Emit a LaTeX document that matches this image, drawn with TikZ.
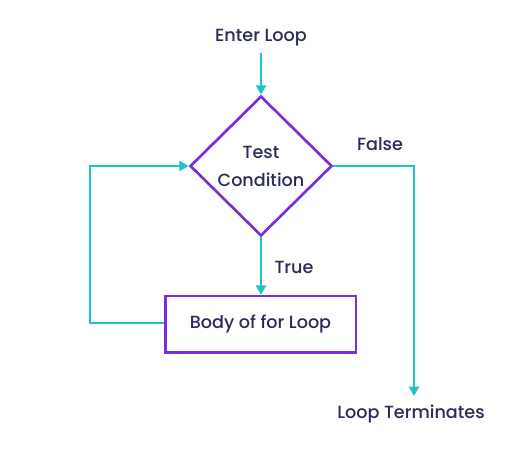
\documentclass[tikz,border=0pt]{standalone}
\usepackage{fontspec}
\setmainfont{Poppins}
\newfontfamily\labfam{Poppins Medium}
\usetikzlibrary{arrows.meta,shapes.geometric}
\definecolor{teal1}{HTML}{22C3C8}
\definecolor{purp}{HTML}{7A2FDD}
\definecolor{ink}{HTML}{2A2B5C}
\newcommand\labfont{\labfam\fontsize{13.2pt}{15pt}\selectfont}
\tikzset{
  lbl/.style={text=ink,font=\labfont,inner sep=0pt},
  flow/.style={draw=teal1,line width=2pt,-{Triangle[width=7.5pt,length=7pt]}},
  decision/.style={diamond,draw=purp,line width=2pt,minimum width=106.5pt,minimum height=105pt,inner sep=0pt,align=center,text=ink,font=\labfam\fontsize{13.2pt}{21pt}\selectfont},
  procbox/.style={rectangle,draw=purp,line width=2pt,minimum width=143pt,minimum height=42.5pt,text=ink,font=\labfont}
}
\begin{document}
\begin{tikzpicture}[x=0.75pt,y=-0.75pt]
\useasboundingbox (0,0) rectangle (519,463);
\node[lbl] (enter) at (261,38) {Enter Loop};
\node[decision] (cond) at (261,166) {\raisebox{-2.5pt}{Test}\\\raisebox{-2.5pt}{Condition}};
\node[procbox] (body) at (260.5,324.5) {\raisebox{-1pt}{Body of for Loop}};
\node[lbl] (true) at (294,267) {True};
\node[lbl] (false) at (380,144) {False};
\node[lbl] (term) at (411,414) {Loop Terminates};
\coordinate (endT) at (414,396);
\coordinate (lc1) at (90,323);
\coordinate (lc2) at (90,166);
\coordinate (rc1) at (414,166);
\coordinate (estart) at (261,53);
\draw[flow] (estart) -- (cond.north);
\draw[flow] (cond.south) -- (cond.south |- body.north);
\draw[flow] (body.west |- lc1) -- (lc1) -- (lc2) -- (cond.west);
\draw[flow] (cond.east) -- (rc1) -- (endT);
\end{tikzpicture}
\end{document}
